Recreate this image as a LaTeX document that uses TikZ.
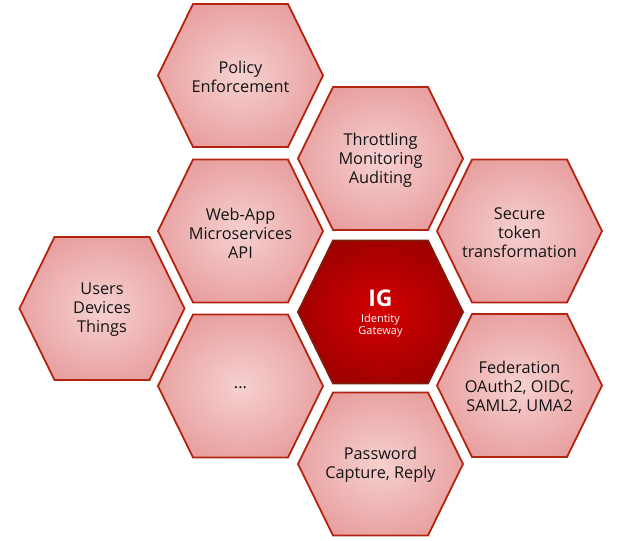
\documentclass[tikz,border=0pt]{standalone}
\usepackage{fontspec}
\setmainfont{Open Sans}
\definecolor{hexin}{RGB}{246,208,208}
\definecolor{hexout}{RGB}{221,122,122}
\definecolor{hexline}{RGB}{178,36,16}
\definecolor{igin}{RGB}{212,0,0}
\definecolor{igout}{RGB}{112,0,0}
\definecolor{igline}{RGB}{130,28,10}
\definecolor{txt}{RGB}{20,20,20}
\pgfdeclareradialshading{pinkhex}{\pgfpoint{0bp}{0bp}}{color(0bp)=(hexin); color(48bp)=(hexout); color(80bp)=(hexout)}
\pgfdeclareradialshading{redhex}{\pgfpoint{0bp}{0bp}}{color(0bp)=(igin); color(50bp)=(igout); color(80bp)=(igout)}
\tikzset{
  hexshape/.style={line width=1.8pt, draw=hexline, shading=pinkhex, line join=miter},
  igshape/.style={line width=1.8pt, draw=igline, shading=redhex, line join=miter},
  hextext/.style={align=center, text=txt, font=\fontsize{16.3}{19}\selectfont, inner sep=0pt},
  igtext/.style={align=center, text=white, font=\fontsize{11}{12}\selectfont, inner sep=0pt}
}
\newcommand\hexpath[3]{%
  \path[#3] (#1-82.5,#2) -- (#1-47.5,#2-71.5) -- (#1+47.5,#2-71.5) -- (#1+82.5,#2)
    -- (#1+47.5,#2+71.5) -- (#1-47.5,#2+71.5) -- cycle;}
\begin{document}
\begin{tikzpicture}[x=1pt,y=-1pt]
\useasboundingbox (0,0) rectangle (628,540);
% hexagon outlines
\hexpath{240.5}{75.5}{hexshape}
\hexpath{380.5}{158.5}{hexshape}
\hexpath{240.5}{231}{hexshape}
\hexpath{519.5}{231}{hexshape}
\hexpath{102}{308.5}{hexshape}
\hexpath{380.5}{312}{igshape}
\hexpath{240.5}{386}{hexshape}
\hexpath{519.5}{385.5}{hexshape}
\hexpath{380.5}{464}{hexshape}
% labels
\node[hextext] (policy) at (240.5,77) {Policy\\Enforcement};
\node[hextext] (throttle) at (380.5,160) {Throttling\\Monitoring\\Auditing};
\node[hextext] (webapp) at (240.5,233) {Web-App\\Microservices\\API};
\node[hextext] (secure) at (519.5,232.5) {Secure\\token\\transformation};
\node[hextext] (users) at (102,310) {Users\\Devices\\Things};
\node[igtext] (ig) at (380.5,313) {{\fontsize{23}{23}\selectfont\bfseries IG}\\[4pt]Identity\\Gateway};
\node[hextext, anchor=base] (more) at (240.5,388) {...};
\node[hextext] (federation) at (519.5,387) {Federation\\OAuth2, OIDC,\\SAML2, UMA2};
\node[hextext] (password) at (380.5,465) {Password\\Capture, Reply};
\end{tikzpicture}
\end{document}
